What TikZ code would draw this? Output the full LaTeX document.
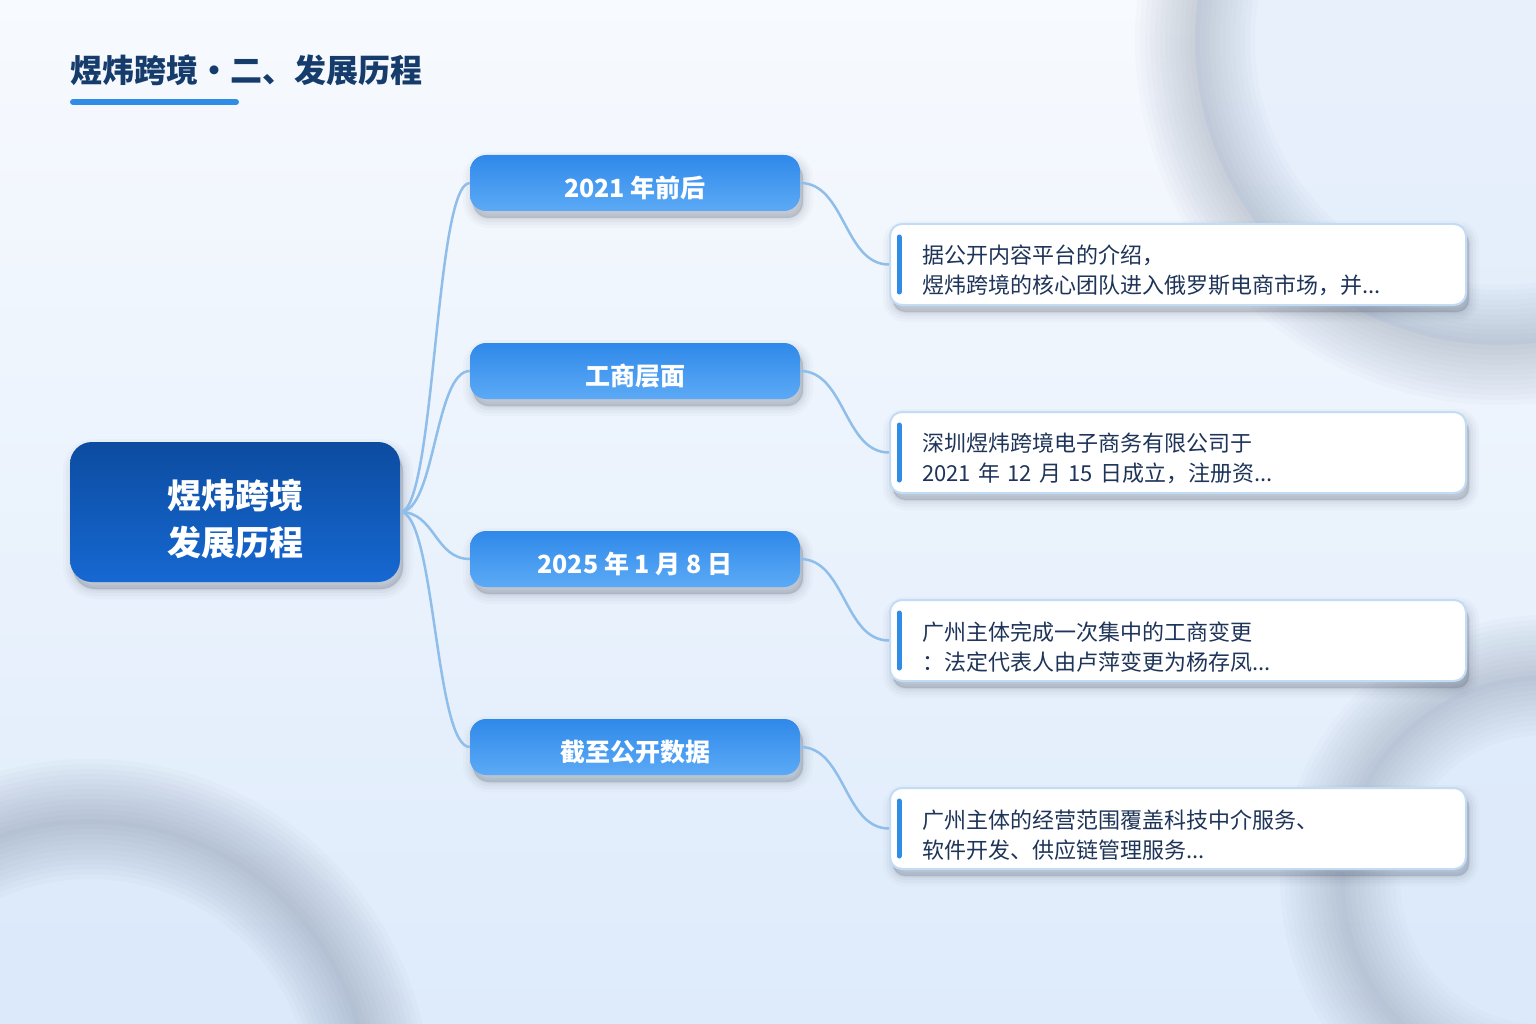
\documentclass[tikz,border=0pt]{standalone}
\usepackage{fontspec}
\setmainfont{Noto Sans CJK SC}
\usetikzlibrary{shadows}
\definecolor{bgtop}{RGB}{247,250,254}
\definecolor{bgbot}{RGB}{222,235,251}
\definecolor{titlec}{RGB}{22,60,108}
\definecolor{accent}{RGB}{47,141,232}
\definecolor{roottop}{RGB}{12,76,160}
\definecolor{rootbot}{RGB}{22,104,210}
\definecolor{brtop}{RGB}{47,137,233}
\definecolor{brbot}{RGB}{92,170,246}
\definecolor{linkc}{RGB}{143,190,234}
\definecolor{leafborder}{RGB}{194,220,245}
\definecolor{leaftext}{RGB}{30,52,88}
\definecolor{shadowc}{RGB}{60,70,90}
\definecolor{ringc}{RGB}{110,125,150}
\definecolor{ringin}{RGB}{218,232,250}
\tikzset{
  softshadow/.style={
    general shadow={fill=shadowc, draw=shadowc, line width=20pt, opacity=0.025, shadow xshift=3pt, shadow yshift=-7pt},
    general shadow={fill=shadowc, draw=shadowc, line width=14pt, opacity=0.035, shadow xshift=3pt, shadow yshift=-7pt},
    general shadow={fill=shadowc, draw=shadowc, line width=8pt, opacity=0.045, shadow xshift=3pt, shadow yshift=-7pt},
    general shadow={fill=shadowc, draw=shadowc, line width=3pt, opacity=0.055, shadow xshift=3pt, shadow yshift=-7pt},
    general shadow={fill=shadowc, opacity=0.06, shadow xshift=3pt, shadow yshift=-7pt}},
  rootbox/.style={softshadow, rounded corners=22pt, minimum width=330pt, minimum height=140pt,
    top color=roottop, bottom color=rootbot, text=white, align=center, inner sep=0pt,
    font=\bfseries\fontsize{34}{47}\selectfont},
  brbox/.style={softshadow, rounded corners=16pt, minimum width=330pt, minimum height=56pt,
    top color=brtop, bottom color=brbot, text=white, inner sep=0pt,
    font=\bfseries\fontsize{25}{30}\selectfont, execute at begin node={\rule{0pt}{32pt}}},
  leafbox/.style={softshadow, rounded corners=12pt, minimum width=576pt, minimum height=81pt,
    fill=white, draw=leafborder, line width=2pt, text=leaftext, align=left,
    text width=512pt, inner xsep=32pt, inner ysep=0pt,
    font=\fontsize{22}{30}\selectfont, execute at begin node={\rule{0pt}{31pt}}},
  link/.style={draw=linkc, line width=2.5pt},
  bar/.style={draw=accent, line width=5pt, line cap=round},
  ring/.style={draw=ringc, line width=#1}
}
\begin{document}
\begin{tikzpicture}[x=1pt, y=-1pt]
\useasboundingbox (0,0) rectangle (1536,1024);
\fill[top color=bgtop, bottom color=bgbot] (0,0) rectangle (1536,1024);
% background rings
\begin{scope}
\clip (0,0) rectangle (1536,1024);
\fill[ringin, opacity=0.5] (1500,40) circle[radius=305];
\fill[ringin, opacity=0.5] (90,1100) circle[radius=281];
\fill[ringin, opacity=0.5] (1545,880) circle[radius=205];
\foreach \w in {120,110,...,10} {
  \draw[ring=\w pt, opacity=0.028] (1500,40) circle[radius=305];
  \draw[ring=\w pt, opacity=0.03] (90,1100) circle[radius=281];
  \draw[ring=\w pt, opacity=0.026] (1545,880) circle[radius=205];
}
\end{scope}
% title
\node[anchor=west, inner sep=0pt, text=titlec, font=\bfseries\fontsize{32}{38}\selectfont] (title) at (70,70) {煜炜跨境・二、发展历程};
\draw[accent, line width=6pt, line cap=round] (73,102) -- (236,102);
% nodes
\node[rootbox] (root) at (235,512) {\rule{0pt}{44pt}煜炜跨境\\发展历程};
\node[brbox] (b1) at (635,183) {2021 年前后};
\node[brbox] (b2) at (635,371) {工商层面};
\node[brbox] (b3) at (635,559) {2025 年 1 月 8 日};
\node[brbox] (b4) at (635,747) {截至公开数据};
\node[leafbox] (l1) at (1178,264.5) {据公开内容平台的介绍，\\煜炜跨境的核心团队进入俄罗斯电商市场，并...};
\node[leafbox] (l2) at (1178,452.5) {深圳煜炜跨境电子商务有限公司于\\2021 年 12 月 15 日成立，注册资...};
\node[leafbox] (l3) at (1178,640.5) {广州主体完成一次集中的工商变更\\：法定代表人由卢萍变更为杨存凤...};
\node[leafbox] (l4) at (1178,828.5) {广州主体的经营范围覆盖科技中介服务、\\软件开发、供应链管理服务...};
\foreach \n in {l1,l2,l3,l4} {
  \draw[bar] ([xshift=10pt,yshift=-14pt]\n.north west) -- ([xshift=10pt,yshift=14pt]\n.south west);
}
% connectors
\foreach \b/\l in {b1/l1,b2/l2,b3/l3,b4/l4} {
  \draw[link] (root.east) .. controls +(35,0) and +(-35,0) .. (\b.west);
  \draw[link] (\b.east) .. controls +(45,0) and +(-45,0) .. (\l.west);
}
\end{tikzpicture}
\end{document}
